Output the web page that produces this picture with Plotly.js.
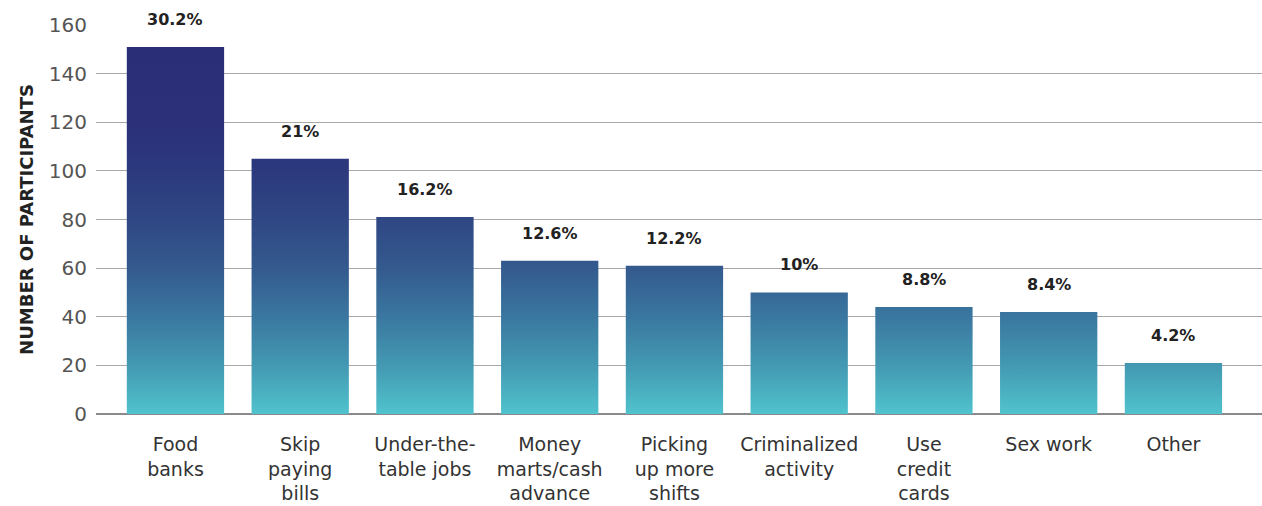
<!DOCTYPE html>
<html>
<head>
<meta charset="utf-8">
<script src="https://cdn.plot.ly/plotly-3.0.1.min.js"></script>
<style>html,body{margin:0;padding:0;background:#fff;}#chart{width:1262px;height:506px;}</style>
</head>
<body>
<div id="chart"></div>
<script>
const categories = ["Food<br>banks", "Skip<br>paying<br>bills", "Under-the-<br>table jobs", "Money<br>marts/cash<br>advance", "Picking<br>up more<br>shifts", "Criminalized<br>activity", "Use<br>credit<br>cards", "Sex work", "Other"];
const participants = [151, 105, 81, 63, 61, 50, 44, 42, 21];
const percentLabels = ["30.2%", "21%", "16.2%", "12.6%", "12.2%", "10%", "8.8%", "8.4%", "4.2%"];
const yTicks = [0, 20, 40, 60, 80, 100, 120, 140, 160];

const FONT = "'DejaVu Sans', sans-serif";
const barWidth = 0.78;
const gradient = [
  [0, "#50c3cd"],
  [0.125, "#4399b2"],
  [0.25, "#3a77a0"],
  [0.375, "#345a8e"],
  [0.5, "#2f4784"],
  [0.625, "#2c397d"],
  [0.75, "#2b3079"],
  [1, "#2a2d76"]
];

const traces = participants.map((v, i) => ({
  type: "scatter",
  mode: "lines",
  x: [i - barWidth / 2, i - barWidth / 2, i + barWidth / 2, i + barWidth / 2, i - barWidth / 2],
  y: [0, v, v, 0, 0],
  fill: "toself",
  fillgradient: { type: "vertical", colorscale: gradient, start: 0, stop: 160 },
  line: { width: 0 },
  hoverinfo: "skip",
  showlegend: false
}));

const annotations = participants.map((v, i) => ({
  x: i, y: v, xref: "x", yref: "y",
  text: percentLabels[i],
  showarrow: false,
  yanchor: "bottom",
  yshift: 16,
  font: { family: FONT, size: 16, color: "#222", weight: 700 }
}));

const layout = {
  width: 1262, height: 506,
  margin: { l: 96, r: 0, t: 25, b: 92 },
  paper_bgcolor: "#fff", plot_bgcolor: "#fff",
  showlegend: false,
  xaxis: {
    range: [-0.637, 8.71],
    tickvals: categories.map((c, i) => i),
    ticktext: categories,
    showgrid: false, zeroline: false, showline: false,
    ticks: "outside", ticklen: 13, tickcolor: "rgba(0,0,0,0)",
    tickfont: { family: FONT, size: 19, color: "#333" },
    fixedrange: true
  },
  yaxis: {
    range: [0, 160],
    tickvals: yTicks,
    showgrid: true, gridcolor: "#a8a8a8", gridwidth: 1.2,
    zeroline: true, zerolinecolor: "#8a8a8a", zerolinewidth: 1.8,
    ticks: "", ticklabelstandoff: 8,
    tickfont: { family: FONT, size: 20, color: "#555" },
    title: { text: "NUMBER OF PARTICIPANTS", standoff: 10, font: { family: FONT, size: 18, color: "#222", weight: 700 } },
    fixedrange: true
  },
  annotations: annotations
};

Plotly.newPlot("chart", traces, layout, { displayModeBar: false, staticPlot: true });
</script>
</body>
</html>
